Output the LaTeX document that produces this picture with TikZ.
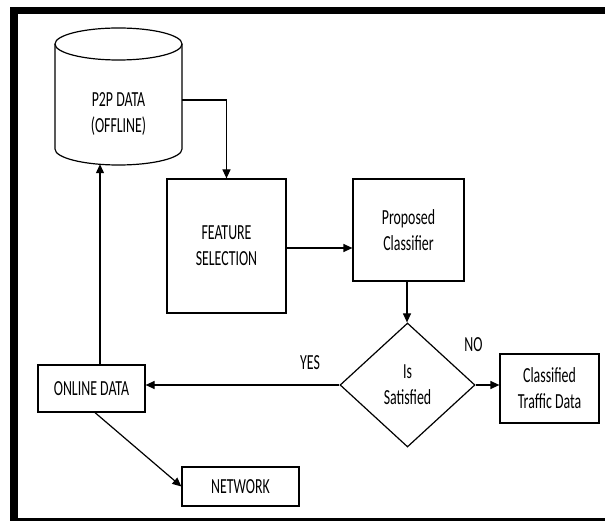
\documentclass[tikz,border=0pt]{standalone}
\usepackage{fontspec}
\setmainfont{Carlito}[FakeStretch=0.645]
\usetikzlibrary{shapes.geometric,arrows.meta}
\begin{document}
\begin{tikzpicture}[x=1pt,y=-1pt,
  lbl/.style={font=\fontsize{21.5}{26}\selectfont, align=center, inner sep=0pt},
  boxn/.style={lbl, draw, line width=1.2pt, inner sep=0pt},
  ln/.style={line width=1.2pt},
  arr/.style={line width=1.2pt, -{Triangle[length=9pt,width=8pt]}}]
\useasboundingbox (0,0) rectangle (605,521);
% frame
\fill (10,7) rectangle (605,14);
\fill (10,7) rectangle (18,521);
\fill (10,518) rectangle (605,521);
% cylinder
\node[minimum width=127pt, minimum height=136pt, inner sep=0pt] (p2p) at (118.5,96) {};
\draw[ln] (118.5,44) ellipse [x radius=63.5pt, y radius=16pt];
\draw[ln] (55,44) -- (55,149) arc[start angle=180, end angle=360, x radius=63.5pt, y radius=16pt] -- (182,44);
\node[lbl] (p2pt) at (118.5,114) {P2P DATA\\(OFFLINE)};
% boxes
\node[boxn, minimum width=119pt, minimum height=134pt] (feat) at (226.5,246) {FEATURE\\SELECTION};
\node[boxn, minimum width=111pt, minimum height=102pt] (prop) at (408.5,230) {Proposed\\Classifier};
\node[boxn, shape=diamond, aspect=1.09, minimum width=135pt, minimum height=124pt] (dia) at (407.5,385) {Is\\Satisfied};
\node[boxn, minimum width=99pt, minimum height=69pt] (cls) at (549.5,388.5) {Classified\\Traffic Data};
\node[boxn, minimum width=107pt, minimum height=47pt] (onl) at (91.5,388.5) {ONLINE DATA};
\node[boxn, minimum width=117pt, minimum height=39pt] (net) at (240.5,486.5) {NETWORK};
\node[lbl] (yes) at (310,363) {YES};
\node[lbl] (no) at (473.5,345) {NO};
% connectors
\draw[arr] ([yshift=-4pt]p2p.east) -| (feat.north);
\draw[arr] ([yshift=-2pt]feat.east) -- ([yshift=-2pt]feat.east -| prop.west);
\draw[arr] ([xshift=-1.5pt]prop.south) -- ([xshift=-1.5pt]prop.south |- dia.north);
\draw[arr] (dia.east) -- (dia.east -| cls.west);
\draw[arr] (dia.west) -- (dia.west -| onl.east);
\draw[arr] ([xshift=8.5pt]onl.north) -- ([xshift=8.5pt]onl.north |- p2p.south);
\draw[arr] ([xshift=3.5pt]onl.south) -- (net.west);
\end{tikzpicture}
\end{document}
